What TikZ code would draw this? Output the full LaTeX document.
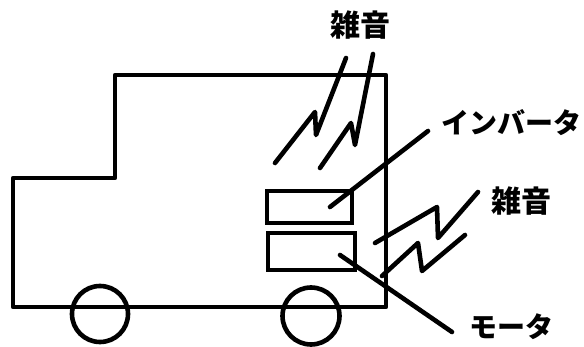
\documentclass[tikz,border=0pt]{standalone}
\usepackage{fontspec}
\newfontfamily\cjk{Noto Sans CJK JP}
\begin{document}
\begin{tikzpicture}[x=1pt,y=-1pt,
  ink/.style={line width=4.6pt,line join=round,line cap=round},
  unit/.style={draw,line width=4.2pt,rectangle,inner sep=0pt},
  label/.style={font=\cjk\bfseries\fontsize{28}{28}\selectfont,inner sep=0pt},
  noise/.style={font=\cjk\bfseries\fontsize{30}{30}\selectfont,inner sep=0pt}]
\useasboundingbox (0,0) rectangle (584,347);

% truck body
\draw[ink] (13,178) -- (115,178) -- (115,75) -- (386,75) -- (386,307) -- (13,307) -- cycle;
% wheels
\draw[ink] (100,314) circle (28);
\draw[ink] (311,316) circle (28.5);

% inverter and motor boxes
\node[unit,minimum width=85,minimum height=32] (inv) at (309.5,207) {};
\node[unit,minimum width=87,minimum height=37] (mot) at (311.5,251.5) {};

% labels
\node[noise] (n1) at (360,25) {雑音};
\node[noise] (n2) at (521,201) {雑音};
\node[label] (tinv) at (511,123) {インバータ};
\node[label] (tmot) at (511,327) {モータ};

% leader lines
\coordinate (pinv) at (330,207);
\coordinate (pmot) at (340,255);
\coordinate (einv) at (428,131);
\coordinate (emot) at (452,332);
\draw[ink] (pinv) -- (einv);
\draw[ink] (pmot) -- (emot);

% noise bolts above the roof
\draw[ink] (275,163) -- (315,112) -- (316,135) -- (346,58);
\draw[ink] (320,168) -- (351,123) -- (355,145) -- (373,54);
% noise bolts at the side
\draw[ink] (375,243) -- (437,207) -- (438,238) -- (478,192);
\draw[ink] (382,276) -- (418,243) -- (422,271) -- (465,235);
\end{tikzpicture}
\end{document}
